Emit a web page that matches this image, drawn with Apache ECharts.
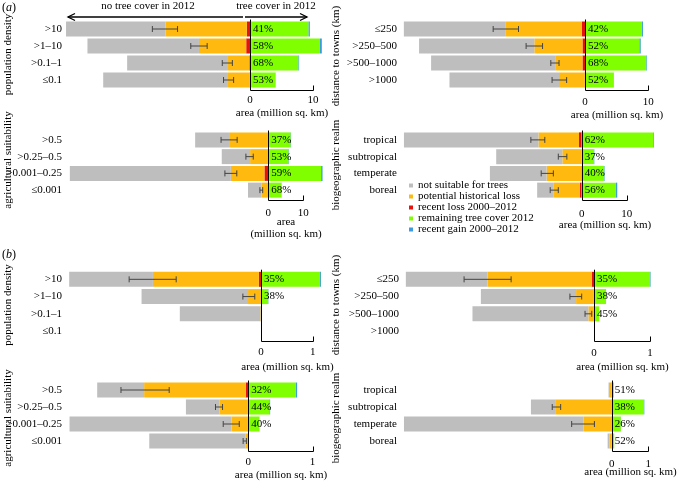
<!DOCTYPE html>
<html><head><meta charset="utf-8">
<script src="https://cdn.jsdelivr.net/npm/echarts/dist/echarts.min.js"></script>
<style>html,body{margin:0;padding:0;background:#fff}#c{width:679px;height:481px}</style>
</head><body><div id="c"></div><script>
const FONT = 'Liberation Serif';

// ---- categories ----
const catsPop = ['>10', '>1–10', '>0.1–1', '≤0.1'];
const catsDist = ['≤250', '>250–500', '>500–1000', '>1000'];
const catsAgri = ['>0.5', '>0.25–0.5', '>0.001–0.25', '≤0.001'];
const catsRealm = ['tropical', 'subtropical', 'temperate', 'boreal'];

const seriesNames = ['not suitable for trees', 'potential historical loss', 'recent loss 2000–2012', 'remaining tree cover 2012', 'recent gain 2000–2012'];
const colors = ['#bebebe', '#ffb90f', '#e8120c', '#7fff00', '#3d9be0'];

// ---- (a) population density (million sq. km, segment lengths) ----
const aPopGray = [15.8, 17.7, 16.0, 19.8];
const aPopOrange = [12.9, 7.5, 3.4, 3.45];
const aPopRed = [0.5, 0.6, 0.1, 0.05];
const aPopGreen = [9.3, 11.1, 7.7, 4.0];
const aPopBlue = [0.2, 0.3, 0.1, 0.05];
const aPopErrLo = [-15.5, -9.4, -4.4, -4.2];
const aPopErrHi = [-11.5, -6.8, -2.8, -2.6];
const aPopPct = ['41%', '58%', '68%', '53%'];

// ---- (a) distance to towns ----
const aDistGray = [16.1, 18.2, 19.7, 17.3];
const aDistOrange = [12.0, 7.6, 4.2, 4.05];
const aDistRed = [0.5, 0.4, 0.4, 0.05];
const aDistGreen = [9.0, 8.6, 9.7, 4.5];
const aDistBlue = [0.15, 0.2, 0.1, 0.05];
const aDistErrLo = [-14.5, -9.3, -5.4, -5.2];
const aDistErrHi = [-10.5, -6.7, -4.1, -2.9];
const aDistPct = ['42%', '52%', '68%', '52%'];

// ---- (a) agricultural suitability ----
const aAgriGray = [9.7, 8.1, 46.0, 3.9];
const aAgriOrange = [11.1, 5.15, 9.6, 1.88];
const aAgriRed = [0.1, 0.05, 1.1, 0.02];
const aAgriGreen = [6.4, 5.8, 15.1, 3.8];
const aAgriBlue = [0.1, 0.1, 0.4, 0.02];
const aAgriErrLo = [-13.5, -6.4, -12.4, -2.4];
const aAgriErrHi = [-8.9, -4.3, -9.0, -1.6];
const aAgriPct = ['37%', '53%', '59%', '68%'];

// ---- (a) biogeographic realm ----
const aRealmGray = [29.9, 14.7, 12.6, 3.7];
const aRealmOrange = [9.0, 4.25, 7.7, 5.8];
const aRealmRed = [0.6, 0.05, 0.1, 0.4];
const aRealmGreen = [15.9, 2.7, 5.0, 7.6];
const aRealmBlue = [0.15, 0.1, 0.1, 0.3];
const aRealmErrLo = [-11.3, -5.2, -9.0, -7.0];
const aRealmErrHi = [-8.2, -3.3, -6.3, -5.2];
const aRealmPct = ['62%', '37%', '40%', '56%'];

// ---- (b) population density ----
const bPopGray = [1.62, 2.06, 1.56, 0];
const bPopOrange = [2.05, 0.245, 0.01, 0];
const bPopRed = [0.04, 0.005, 0, 0];
const bPopGreen = [1.14, 0.14, 0.003, 0];
const bPopBlue = [0.02, 0.005, 0, 0];
const bPopErrLo = [-2.55, -0.35, null, null];
const bPopErrHi = [-1.64, -0.12, null, null];
const bPopPct = ['35%', '38%', '', ''];

// ---- (b) distance to towns ----
const bDistGray = [1.46, 1.70, 2.07, 0];
const bDistOrange = [1.86, 0.315, 0.097, 0];
const bDistRed = [0.04, 0.005, 0.003, 0];
const bDistGreen = [1.0, 0.21, 0.09, 0];
const bDistBlue = [0.01, 0.005, 0.002, 0];
const bDistErrLo = [-2.32, -0.43, -0.16, null];
const bDistErrHi = [-1.48, -0.22, -0.04, null];
const bDistPct = ['35%', '38%', '45%', ''];

// ---- (b) agricultural suitability ----
const bAgriGray = [0.73, 0.52, 2.52, 1.50];
const bAgriOrange = [1.58, 0.445, 0.255, 0.04];
const bAgriRed = [0.04, 0.005, 0.005, 0];
const bAgriGreen = [0.74, 0.33, 0.17, 0.003];
const bAgriBlue = [0.02, 0.01, 0.003, 0];
const bAgriErrLo = [-1.98, -0.51, -0.39, -0.08];
const bAgriErrHi = [-1.23, -0.40, -0.14, -0.03];
const bAgriPct = ['32%', '44%', '40%', ''];

// ---- (b) biogeographic realm ----
const bRealmGray = [0.04, 0.68, 4.89, 0.05];
const bRealmOrange = [0.04, 1.51, 0.76, 0.055];
const bRealmRed = [0.005, 0.01, 0.01, 0.005];
const bRealmGreen = [0.06, 0.88, 0.25, 0.07];
const bRealmBlue = [0, 0.01, 0.003, 0];
const bRealmErrLo = [null, -1.62, -1.09, null];
const bRealmErrHi = [null, -1.39, -0.47, null];
const bRealmPct = ['51%', '38%', '26%', '52%'];

const AREA = 'area (million sq. km)';
const panels = [
  {cats: catsPop, gray: aPopGray, orange: aPopOrange, red: aPopRed, green: aPopGreen, blue: aPopBlue, lo: aPopErrLo, hi: aPopErrHi, pct: aPopPct,
   L: {left: 61, width: 264.6, top: 20.5, height: 68, min: -30, max: 12, interval: 10, tickMax: 10, labelRight: 62, tickMargin: 6, nameGap: 24.5, name: AREA}},
  {cats: catsDist, gray: aDistGray, orange: aDistOrange, red: aDistRed, green: aDistGreen, blue: aDistBlue, lo: aDistErrLo, hi: aDistErrHi, pct: aDistPct,
   L: {left: 395, width: 266, top: 20.5, height: 68, min: -30, max: 12, interval: 10, tickMax: 10, labelRight: 397, tickMargin: 8, nameGap: 27, name: AREA}},
  {cats: catsAgri, gray: aAgriGray, orange: aAgriOrange, red: aAgriRed, green: aAgriGreen, blue: aAgriBlue, lo: aAgriErrLo, hi: aAgriErrHi, pct: aAgriPct,
   L: {left: 58.3, width: 266, top: 131.5, height: 67, min: -60, max: 16, interval: 10, tickMax: 10, labelRight: 62, tickMargin: 9, nameGap: 29.5, name: 'area\n(million sq. km)'}},
  {cats: catsRealm, gray: aRealmGray, orange: aRealmOrange, red: aRealmRed, green: aRealmGreen, blue: aRealmBlue, lo: aRealmErrLo, hi: aRealmErrHi, pct: aRealmPct,
   L: {left: 401.7, width: 256.5, top: 131.5, height: 67, min: -40, max: 17, interval: 10, tickMax: 10, labelRight: 397, tickMargin: 10, nameGap: 26.5, name: AREA}},
  {cats: catsPop, gray: bPopGray, orange: bPopOrange, red: bPopRed, green: bPopGreen, blue: bPopBlue, lo: bPopErrLo, hi: bPopErrHi, pct: bPopPct,
   L: {left: 54.2, width: 268.8, top: 270.7, height: 69, min: -4, max: 1.2, interval: 1, tickMax: 1, labelRight: 62, tickMargin: 6.5, nameGap: 27.3, name: AREA}},
  {cats: catsDist, gray: bDistGray, orange: bDistOrange, red: bDistRed, green: bDistGreen, blue: bDistBlue, lo: bDistErrLo, hi: bDistErrHi, pct: bDistPct,
   L: {left: 370, width: 285.6, top: 270.7, height: 69, min: -4, max: 1.1, interval: 1, tickMax: 1, labelRight: 399, tickMargin: 7.5, nameGap: 27.3, name: AREA}},
  {cats: catsAgri, gray: bAgriGray, orange: bAgriOrange, red: bAgriRed, green: bAgriGreen, blue: bAgriBlue, lo: bAgriErrLo, hi: bAgriErrHi, pct: bAgriPct,
   L: {left: 55.4, width: 263.6, top: 381.5, height: 68, min: -3, max: 1.1, interval: 1, tickMax: 1, labelRight: 62, tickMargin: 6.7, nameGap: 25.5, name: AREA}},
  {cats: catsRealm, gray: bRealmGray, orange: bRealmOrange, red: bRealmRed, green: bRealmGreen, blue: bRealmBlue, lo: bRealmErrLo, hi: bRealmErrHi, pct: bRealmPct,
   L: {left: 391.5, width: 264.2, top: 381.5, height: 68, min: -6, max: 1.2, interval: 1, tickMax: 1, labelRight: 397, tickMargin: 9, nameGap: 22.8, name: AREA}}
];

function errRender(params, api) {
  const lo = api.coord([api.value(0), api.value(2)]);
  const hi = api.coord([api.value(1), api.value(2)]);
  const h = 3;
  const st = {stroke: '#444', lineWidth: 1, fill: null};
  return {type: 'group', children: [
    {type: 'line', shape: {x1: lo[0], y1: lo[1], x2: hi[0], y2: hi[1]}, style: st},
    {type: 'line', shape: {x1: lo[0], y1: lo[1] - h, x2: lo[0], y2: lo[1] + h}, style: st},
    {type: 'line', shape: {x1: hi[0], y1: hi[1] - h, x2: hi[0], y2: hi[1] + h}, style: st}
  ]};
}

function axisRender(L) {
  return function (params, api) {
    const cs = params.coordSys;
    const x0 = Math.round(api.coord([0, 0])[0]) + 0.5;
    const xT = Math.round(api.coord([L.tickMax, 0])[0]) + 0.5;
    const yb = Math.round(cs.y + cs.height + 1.5) + 0.5;
    const st = {stroke: '#000', lineWidth: 1, fill: null};
    return {type: 'group', children: [
      {type: 'line', shape: {x1: x0, y1: cs.y - 1, x2: x0, y2: yb}, style: st},
      {type: 'line', shape: {x1: x0, y1: yb, x2: xT, y2: yb}, style: st},
      {type: 'line', shape: {x1: xT, y1: yb, x2: xT, y2: yb - 5}, style: st},
      {type: 'text', x: (x0 + xT) / 2, y: cs.y + cs.height + L.nameGap,
       style: {text: L.name, align: 'center', textAlign: 'center', verticalAlign: 'middle', textVerticalAlign: 'middle',
               fontFamily: FONT, fontSize: 11, fill: '#000', lineHeight: 12}}
    ]};
  };
}

const grid = [], xAxis = [], yAxis = [], series = [];
panels.forEach((p, i) => {
  const L = p.L;
  grid.push({left: L.left, top: L.top, width: L.width, height: L.height});
  xAxis.push({type: 'value', gridIndex: i, min: L.min, max: L.max, interval: L.interval,
    axisLine: {show: false}, axisTick: {show: false}, splitLine: {show: false},
    axisLabel: {margin: L.tickMargin, fontFamily: FONT, fontSize: 11, color: '#000',
      formatter: v => (Math.abs(v) < 1e-9 ? '0' : (Math.abs(v - L.tickMax) < 1e-9 ? String(L.tickMax) : ''))}});
  yAxis.push({type: 'category', gridIndex: i, data: p.cats, inverse: true,
    axisLine: {show: false}, axisTick: {show: false}, splitLine: {show: false},
    offset: L.left - L.labelRight - 1,
    axisLabel: {margin: 1, fontFamily: FONT, fontSize: 11, color: '#000'}});
  const stack = 'stack' + i;
  const segs = [['red', 2], ['orange', 1], ['gray', 0], ['green', 3], ['blue', 4]];
  segs.forEach(([k, ci]) => {
    const neg = ci < 3;
    const s = {type: 'bar', name: seriesNames[ci], xAxisIndex: i, yAxisIndex: i, stack: stack,
      barWidth: 15, itemStyle: {color: colors[ci]}, emphasis: {disabled: true},
      data: p[k].map(v => neg ? -v : v)};
    if (k === 'green') {
      s.label = {show: true, position: 'insideLeft', distance: 3, color: '#000', fontFamily: FONT, fontSize: 11,
        formatter: prm => p.pct[prm.dataIndex]};
    }
    series.push(s);
  });
  const errData = [];
  p.lo.forEach((lo, j) => { if (lo != null) errData.push([lo, p.hi[j], j]); });
  series.push({type: 'custom', xAxisIndex: i, yAxisIndex: i, data: errData, encode: {x: [0, 1], y: 2},
    renderItem: errRender, z: 5, silent: true});
  series.push({type: 'custom', xAxisIndex: i, yAxisIndex: i, data: [[0, 0]], encode: {x: 0, y: 1},
    renderItem: axisRender(L), z: 6, silent: true});
});

function vtext(text, x, y) {
  return {type: 'text', x: x, y: y, rotation: Math.PI / 2,
    style: {text: text, align: 'center', textAlign: 'center', verticalAlign: 'middle', textVerticalAlign: 'middle',
            fontFamily: FONT, fontSize: 11, fill: '#000'}};
}
function letter(ch, y) {
  return {type: 'text', x: 2, y: y,
    style: {text: '{n|(}{i|' + ch + '}{n|)}', verticalAlign: 'middle', textVerticalAlign: 'middle',
      rich: {n: {fontFamily: FONT, fontSize: 12, fill: '#000', color: '#000'},
             i: {fontFamily: FONT, fontSize: 12, fontStyle: 'italic', fill: '#000', color: '#000'}}}};
}
const arrowStyle = {stroke: '#000', lineWidth: 1.3, fill: null};
const graphic = [
  letter('a', 8), letter('b', 255),
  vtext('population density', 8, 54.5), vtext('distance to towns (km)', 336, 56),
  vtext('agricultural suitability', 8, 160), vtext('biogeographic realm', 336, 165),
  vtext('population density', 8, 305), vtext('distance to towns (km)', 336, 305),
  vtext('agricultural suitability', 8, 418), vtext('biogeographic realm', 336, 418),
  {type: 'text', x: 148, y: 6, style: {text: 'no tree cover in 2012', align: 'center', textAlign: 'center', verticalAlign: 'middle', textVerticalAlign: 'middle', fontFamily: FONT, fontSize: 11, fill: '#000'}},
  {type: 'text', x: 276, y: 6, style: {text: 'tree cover in 2012', align: 'center', textAlign: 'center', verticalAlign: 'middle', textVerticalAlign: 'middle', fontFamily: FONT, fontSize: 11, fill: '#000'}},
  {type: 'polyline', shape: {points: [[68, 17], [243, 17]]}, style: arrowStyle},
  {type: 'polyline', shape: {points: [[75, 13.5], [68, 17], [75, 20.5]]}, style: arrowStyle},
  {type: 'polyline', shape: {points: [[245, 17], [307, 17]]}, style: arrowStyle},
  {type: 'polyline', shape: {points: [[300, 13.5], [307, 17], [300, 20.5]]}, style: arrowStyle}
];

const chart = echarts.init(document.getElementById('c'), null, {renderer: 'canvas'});
chart.setOption({
  animation: false,
  backgroundColor: '#fff',
  textStyle: {fontFamily: FONT},
  grid, xAxis, yAxis, series, graphic,
  legend: {orient: 'vertical', left: 409, top: 180, itemWidth: 4, itemHeight: 4, itemGap: 0, icon: 'rect',
    padding: 0, selectedMode: false, data: seriesNames,
    textStyle: {fontFamily: FONT, fontSize: 11, color: '#000', lineHeight: 10, padding: [0, 0, 0, 0]}}
});
</script></body></html>
